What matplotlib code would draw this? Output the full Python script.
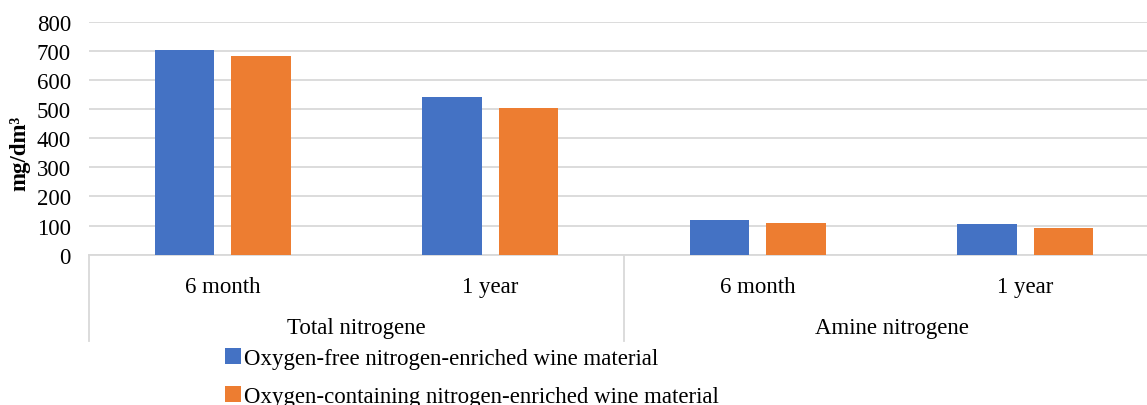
import matplotlib
matplotlib.use("Agg")
import matplotlib.pyplot as plt
import matplotlib.transforms as mtrans
from matplotlib.patches import Patch
import numpy as np

plt.rcParams['font.family'] = ['Liberation Serif', 'DejaVu Serif']

periods = ["6 month", "1 year", "6 month", "1 year"]
groups = ["Total nitrogene", "Amine nitrogene"]
series_names = ["Oxygen-free nitrogen-enriched wine material",
                "Oxygen-containing nitrogen-enriched wine material"]
oxygen_free = [704, 541, 119, 105]
oxygen_containing = [681, 503, 109, 92]
colors = ["#4472C4", "#ED7D31"]

FS = 16.5
W, H = 1147, 406
fig = plt.figure(figsize=(W / 100, H / 100), dpi=100)
# axes runs a little past the right edge, as in the reference crop
ax = fig.add_axes([89 / W, (H - 255.7) / H, 1070 / W, 233 / H])

x = np.arange(len(periods))
bw = 0.224
off = 0.143
ax.bar(x - off, oxygen_free, bw, color=colors[0], zorder=3)
ax.bar(x + off, oxygen_containing, bw, color=colors[1], zorder=3)

ax.set_xlim(-0.5, 3.5)
ax.set_ylim(0, 800)
ax.set_yticks(range(0, 801, 100))
ax.yaxis.grid(True, color="#D9D9D9", linewidth=1.3, zorder=0)
for s in ["top", "right", "left"]:
    ax.spines[s].set_visible(False)
ax.spines["bottom"].set_color("#D9D9D9")
ax.spines["bottom"].set_linewidth(1.3)
ax.tick_params(axis="y", length=0, labelsize=FS, pad=13)

ax.set_xticks(x)
ax.set_xticklabels(periods, fontsize=FS)
ax.tick_params(axis="x", length=0, pad=15)

ax.set_ylabel("mg/dm³", fontsize=FS, fontweight="bold")
ax.yaxis.set_label_coords(-59 / 1070, 0.44)

# group separators
trans = mtrans.blended_transform_factory(ax.transData, ax.transAxes)
for xs in [-0.5, 1.5, 3.5]:
    ax.plot([xs, xs], [0, -86 / 233], transform=trans, color="#D9D9D9",
            linewidth=1.3, clip_on=False)
for i, g in enumerate(groups):
    ax.text(2 * i + 0.5, -73 / 233, g, transform=trans, ha="center",
            va="center", fontsize=FS)

handles = [Patch(facecolor=c) for c in colors]
fig.legend(handles, series_names, loc="upper left",
           bbox_to_anchor=(216 / W, (H - 340) / H), frameon=False,
           fontsize=FS, handlelength=0.7, handleheight=0.7,
           handletextpad=0.1, labelspacing=0.75, borderaxespad=0)

fig.savefig("out.png", dpi=100)
